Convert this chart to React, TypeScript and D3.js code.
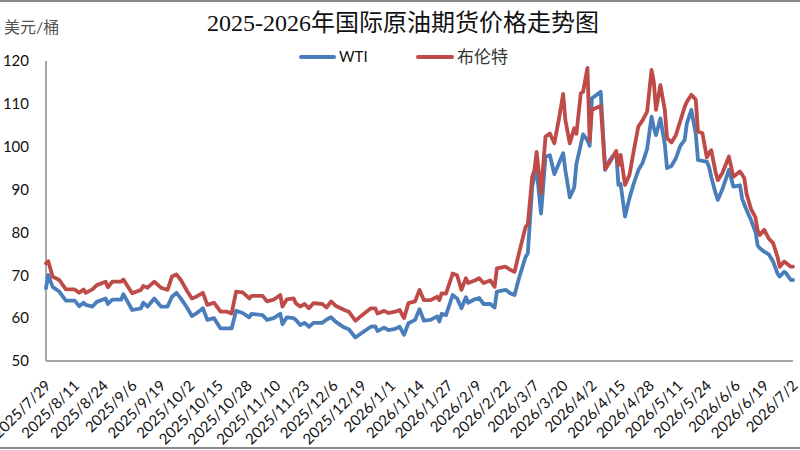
import React from "react";
import * as d3 from "d3";

const title = "2025-2026年国际原油期货价格走势图";
const unitLabel = "美元/桶";
const seriesNames = ["WTI", "布伦特"];
const yTicks = [50, 60, 70, 80, 90, 100, 110, 120];
const axisStart = "2025-07-29";
const axisEnd = "2026-07-02";
const tickStepDays = 13;

const dates = [
  "2025-07-29","2025-07-30","2025-08-01","2025-08-04","2025-08-07","2025-08-11","2025-08-13","2025-08-15","2025-08-16","2025-08-19",
  "2025-08-21","2025-08-25","2025-08-26","2025-08-28","2025-09-01","2025-09-02","2025-09-06","2025-09-10","2025-09-11","2025-09-13",
  "2025-09-16","2025-09-19","2025-09-22","2025-09-24","2025-09-26","2025-09-28","2025-10-01","2025-10-03","2025-10-05","2025-10-08",
  "2025-10-10","2025-10-13","2025-10-16","2025-10-19","2025-10-21","2025-10-23","2025-10-26","2025-10-29","2025-10-30","2025-11-04",
  "2025-11-06","2025-11-09","2025-11-12","2025-11-13","2025-11-15","2025-11-18","2025-11-19","2025-11-21","2025-11-23","2025-11-25",
  "2025-11-27","2025-12-01","2025-12-03","2025-12-05","2025-12-07","2025-12-11","2025-12-13","2025-12-16","2025-12-19","2025-12-23",
  "2025-12-25","2025-12-26","2025-12-29","2025-12-31","2026-01-03","2026-01-05","2026-01-07","2026-01-09","2026-01-12","2026-01-14",
  "2026-01-16","2026-01-19","2026-01-22","2026-01-23","2026-01-24","2026-01-26","2026-01-29","2026-01-31","2026-02-02","2026-02-04",
  "2026-02-05","2026-02-08","2026-02-10","2026-02-12","2026-02-15","2026-02-17","2026-02-18","2026-02-22","2026-02-24","2026-02-26",
  "2026-02-28","2026-03-03","2026-03-04","2026-03-06","2026-03-07","2026-03-08","2026-03-10","2026-03-12","2026-03-14","2026-03-16",
  "2026-03-18","2026-03-20","2026-03-21","2026-03-23","2026-03-25","2026-03-26","2026-03-28","2026-03-29","2026-03-31","2026-04-01",
  "2026-04-02","2026-04-06","2026-04-08","2026-04-10","2026-04-13","2026-04-14","2026-04-15","2026-04-17","2026-04-19","2026-04-21",
  "2026-04-23","2026-04-25","2026-04-27","2026-04-29","2026-04-30","2026-05-01","2026-05-03","2026-05-05","2026-05-06","2026-05-08",
  "2026-05-10","2026-05-12","2026-05-14","2026-05-15","2026-05-17","2026-05-19","2026-05-20","2026-05-22","2026-05-24","2026-05-25",
  "2026-05-26","2026-05-28","2026-05-29","2026-05-31","2026-06-03","2026-06-05","2026-06-08","2026-06-09","2026-06-10","2026-06-11",
  "2026-06-13","2026-06-14","2026-06-15","2026-06-16","2026-06-17","2026-06-19","2026-06-21","2026-06-23","2026-06-25","2026-06-26",
  "2026-06-28","2026-06-29","2026-07-01","2026-07-02",
];

const wti = [
  67.0,70.1,67.3,66.2,64.1,64.1,62.8,63.6,63.1,62.7,
  63.8,64.6,63.3,64.3,64.3,65.6,61.9,62.3,63.6,62.7,
  64.6,62.7,62.7,65.0,65.9,64.6,62.3,60.5,61.1,62.3,
  59.6,60.0,57.6,57.6,57.6,61.7,61.2,60.2,61.0,60.7,
  59.6,60.0,61.0,58.6,60.2,60.0,59.6,58.4,58.9,58.0,
  58.9,58.9,59.7,60.2,59.2,57.8,57.4,55.5,56.6,58.0,
  58.1,57.0,57.8,57.2,57.5,58.0,56.1,58.8,59.6,62.1,
  59.4,59.6,60.4,59.2,61.0,60.7,65.4,64.6,62.3,64.9,
  63.6,64.4,64.7,63.3,63.3,62.5,66.2,66.6,65.8,65.4,
  69.3,74.3,75.1,90.7,93.0,94.6,84.4,97.7,98.0,93.6,
  96.0,98.5,94.5,88.2,90.5,96.0,100.5,102.9,101.5,100.2,
  111.3,112.8,94.6,96.8,98.8,91.1,91.3,83.7,88.0,91.5,
  94.5,96.3,99.5,107.0,104.5,102.7,106.6,100.5,95.0,95.5,
  97.3,100.2,101.6,105.5,108.6,103.0,96.9,96.7,96.5,95.3,
  93.0,89.1,87.6,90.0,94.6,90.7,91.0,87.9,86.5,85.2,
  82.9,81.5,80.2,77.0,76.3,75.5,74.9,73.2,70.4,69.7,
  70.8,70.4,68.9,68.9,
];

const brent = [
  72.8,73.3,69.7,68.9,66.7,66.7,65.9,66.7,65.9,66.7,
  67.7,68.5,67.2,68.5,68.5,69.0,65.8,66.6,67.5,67.1,
  68.5,67.1,66.6,69.7,70.2,68.9,66.2,64.6,65.0,65.9,
  63.1,63.6,61.5,61.5,61.1,66.2,66.0,64.6,65.2,65.2,
  63.9,64.3,65.4,62.7,64.4,64.6,63.5,62.7,63.3,62.3,
  63.5,63.3,62.5,63.9,62.9,61.9,61.5,59.4,60.7,62.3,
  62.3,61.1,61.7,61.2,61.5,61.9,60.0,63.5,63.9,66.6,
  64.2,64.2,65.0,64.2,65.8,65.7,70.4,70.0,66.6,69.3,
  68.2,68.8,69.3,68.2,68.8,67.3,71.6,72.0,71.3,70.8,
  75.1,81.3,81.8,93.0,94.6,98.8,89.1,102.3,103.1,100.8,
  106.2,112.3,106.2,100.8,104.3,103.0,112.5,112.8,118.4,101.4,
  108.6,109.5,94.8,96.3,99.0,95.7,98.1,91.1,93.4,99.2,
  104.7,106.2,108.2,117.9,115.2,108.6,114.4,108.6,102.0,101.0,
  102.7,106.0,109.3,110.5,112.1,111.0,103.5,103.2,97.5,98.5,
  99.2,94.0,92.2,93.8,97.7,93.0,94.2,93.5,92.6,89.0,
  85.5,84.5,83.5,80.5,79.4,80.6,78.6,77.5,74.3,72.0,
  73.2,72.8,72.0,72.0,
];

const seriesColors = ["#4A7EBB", "#BE4B48"];

export default function App() {
  const W = 800;
  const H = 450;
  const parse = d3.timeParse("%Y-%m-%d");
  const xs = dates.map((d) => parse(d) as Date);
  const start = parse(axisStart) as Date;
  const end = parse(axisEnd) as Date;

  const x = d3.scaleTime().domain([start, end]).range([46, 793]);
  const y = d3.scaleLinear().domain([50, 120]).range([361, 61]);

  const nTicks = Math.floor(d3.timeDay.count(start, end) / tickStepDays) + 1;
  const tickDates = d3.range(nTicks).map((i) => d3.timeDay.offset(start, i * tickStepDays));
  const fmt = (d: Date) => `${d.getFullYear()}/${d.getMonth() + 1}/${d.getDate()}`;

  const line = d3
    .line<number>()
    .x((_, i) => x(xs[i]))
    .y((v) => y(v));

  const sans = "Lato, 'Noto Sans CJK SC', sans-serif";
  const serif = "'Liberation Serif', 'Times New Roman', 'Noto Sans CJK SC', serif";

  return (
    <svg
      width={W}
      height={H}
      viewBox={`0 0 ${W} ${H}`}
      style={{ position: "absolute", left: 0, top: 0, display: "block", background: "#fff" }}
    >
      <rect x={0} y={0} width={W} height={H} fill="#fff" />

      <text x={403} y={31} textAnchor="middle" fontFamily={serif} fontSize={24} fill="#111">
        {title}
      </text>
      <text x={4} y={33} fontFamily={sans} fontSize={16} fill="#555">
        {unitLabel}
      </text>

      {/* legend */}
      <line x1={301} x2={334} y1={57} y2={57} stroke={seriesColors[0]} strokeWidth={4} strokeLinecap="round" />
      <text x={339} y={62} fontFamily={sans} fontSize={15} fill="#111">
        {seriesNames[0]}
      </text>
      <line x1={418} x2={452} y1={57} y2={57} stroke={seriesColors[1]} strokeWidth={4} strokeLinecap="round" />
      <text x={457} y={63} fontFamily={sans} fontSize={17} fill="#333">
        {seriesNames[1]}
      </text>

      {/* y axis */}
      <line x1={46} x2={46} y1={61} y2={361} stroke="#8a8a8a" strokeWidth={1.5} />
      {yTicks.map((t) => (
        <text key={t} x={29} y={y(t)} dy="0.35em" textAnchor="end" fontFamily={sans} fontSize={15} fill="#111">
          {t}
        </text>
      ))}

      {/* x axis */}
      <line x1={46} x2={793} y1={361} y2={361} stroke="#8a8a8a" strokeWidth={1.5} />
      {tickDates.map((d, i) => (
        <text
          key={i}
          transform={`translate(${x(d) + 2},${383}) rotate(-45)`}
          dy="0.35em"
          textAnchor="end"
          fontFamily={sans}
          fontSize={15}
          fill="#111"
        >
          {fmt(d)}
        </text>
      ))}

      {/* series */}
      {[wti, brent].map((vals, k) => (
        <path
          key={k}
          d={line(vals) || ""}
          fill="none"
          stroke={seriesColors[k]}
          strokeWidth={3.8}
          strokeLinejoin="round"
          strokeLinecap="round"
        />
      ))}

      {/* frame */}
      <line x1={0} x2={W} y1={1} y2={1} stroke="#8a8a8a" strokeWidth={2} />
      <line x1={0} x2={W} y1={448} y2={448} stroke="#8a8a8a" strokeWidth={2} />
    </svg>
  );
}
